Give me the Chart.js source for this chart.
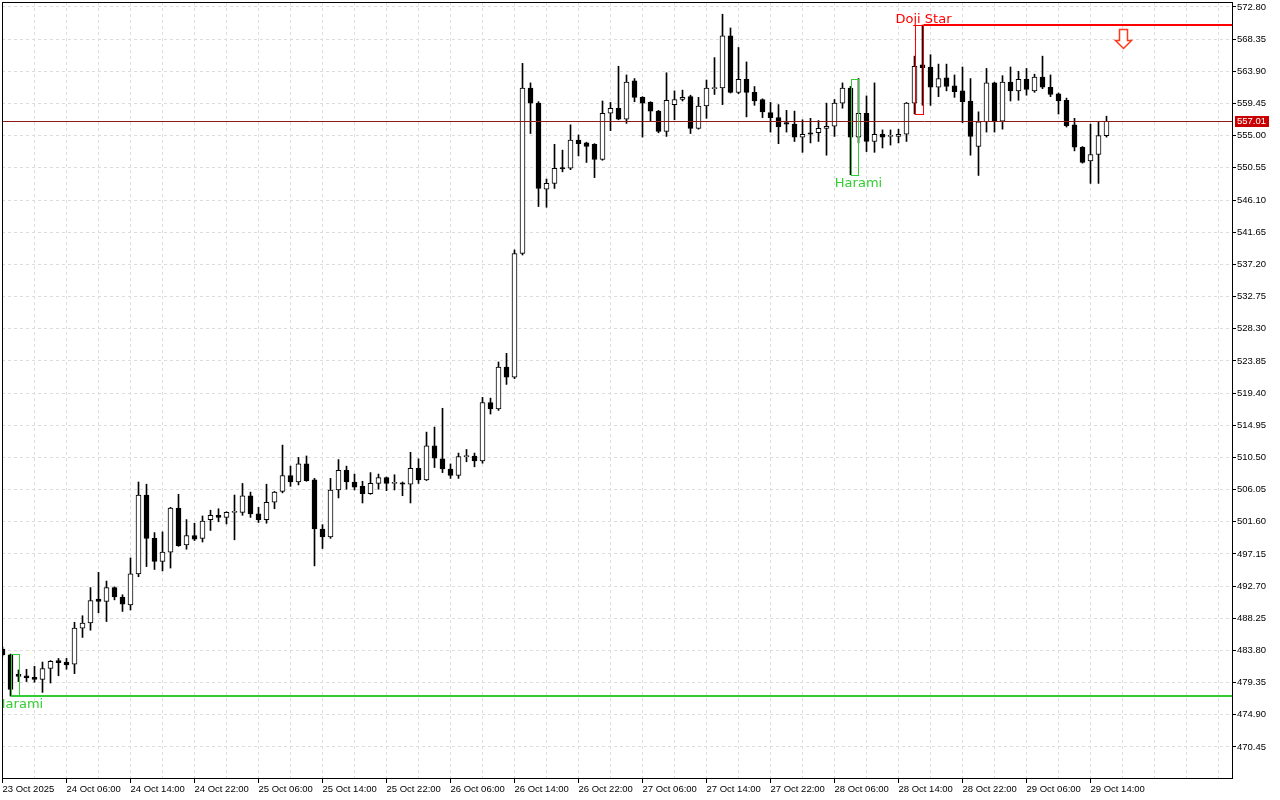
<!DOCTYPE html>
<html>
<head>
<meta charset="utf-8">
<script src="https://cdn.jsdelivr.net/npm/chart.js@4.4.0/dist/chart.umd.min.js"></script>
<style>
  html, body { margin: 0; padding: 0; background: #fff; }
  #wrap { width: 1280px; height: 800px; }
</style>
</head>
<body>
<div id="wrap"><canvas id="candleChart" width="1280" height="800"></canvas></div>
<script>
// hourly bars, first bar = 23 Oct 22:00
const opens = [
  484.0, 483.2, 480.5, 480.3, 480.1, 479.8, 481.3, 482.4, 482.2, 481.9,
  486.9, 487.6, 490.9, 490.6, 492.5, 491.2, 490.1, 494.4, 505.3, 499.3,
  496.1, 497.4, 503.5, 498.4, 499.7, 499.3, 501.9, 502.5, 502.2, 502.9,
  502.9, 505.2, 502.7, 501.9, 504.3, 505.8, 508.0, 507.1, 509.6, 507.4,
  500.6, 499.5, 506.0, 508.7, 507.1, 506.5, 505.5, 506.9, 507.7, 506.9,
  507.0, 506.8, 509.0, 507.4, 512.1, 510.3, 508.9, 508.0, 510.6, 510.7,
  510.0, 518.1, 517.2, 523.0, 521.6, 538.7, 561.6, 559.5, 547.6, 548.4,
  550.6, 550.5, 554.4, 554.0, 553.8, 551.7, 558.1, 558.8, 557.3, 562.6,
  560.3, 559.6, 558.4, 555.6, 559.3, 560.0, 560.4, 556.0, 559.1, 561.5,
  561.6, 568.8, 561.0, 562.8, 561.0, 560.0, 558.2, 557.5, 556.8, 556.6,
  554.8, 555.4, 555.4, 556.0, 556.3, 559.5, 561.6, 554.8, 558.1, 554.2,
  555.2, 554.9, 554.9, 555.2, 559.5, 564.8, 564.5, 561.7, 563.0, 561.9,
  561.2, 559.8, 553.5, 556.9, 562.3, 557.0, 562.4, 561.2, 562.8, 561.2,
  563.1, 561.7, 560.8, 559.9, 556.5, 553.4, 551.5, 552.4, 555.0
];
const highs = [
  484.3, 483.3, 481.1, 481.2, 481.6, 482.2, 482.4, 482.7, 482.7, 487.7,
  488.6, 492.5, 494.6, 493.4, 492.6, 491.5, 496.6, 507.1, 506.8, 500.1,
  500.2, 503.6, 505.4, 501.9, 501.4, 502.4, 503.2, 503.4, 503.0, 505.3,
  506.9, 505.7, 503.6, 506.8, 505.8, 512.2, 509.3, 510.5, 510.7, 507.6,
  501.2, 507.6, 510.2, 509.3, 508.2, 507.2, 508.4, 508.2, 507.8, 508.1,
  507.1, 511.2, 510.3, 514.0, 514.7, 517.3, 509.6, 511.1, 511.6, 511.1,
  518.8, 518.7, 523.7, 524.9, 539.2, 565.0, 562.3, 559.7, 549.0, 553.8,
  553.0, 556.5, 555.1, 554.1, 553.9, 559.8, 559.6, 564.6, 563.4, 562.9,
  560.4, 559.7, 558.5, 563.7, 561.2, 561.3, 560.6, 560.3, 562.7, 565.8,
  571.8, 569.9, 567.2, 565.2, 561.8, 560.1, 559.6, 559.3, 558.5, 558.4,
  557.2, 557.4, 557.1, 559.5, 560.0, 562.3, 561.8, 562.9, 560.5, 562.3,
  555.8, 555.8, 555.9, 559.6, 566.0, 570.3, 566.2, 564.9, 564.9, 563.4,
  564.5, 562.9, 558.3, 564.3, 562.4, 563.3, 564.5, 563.9, 564.3, 563.5,
  566.0, 563.4, 560.9, 560.2, 557.4, 553.5, 556.6, 556.9, 557.7
];
const lows = [
  483.0, 477.5, 479.5, 479.5, 479.4, 478.0, 479.3, 480.3, 481.2, 480.6,
  485.6, 486.6, 489.0, 487.8, 490.8, 489.2, 489.4, 494.0, 495.4, 495.0,
  494.8, 495.2, 498.2, 497.8, 499.0, 498.8, 500.4, 501.6, 501.3, 499.1,
  502.5, 502.2, 501.5, 501.4, 503.4, 505.6, 506.5, 506.7, 507.2, 495.5,
  497.9, 499.3, 504.9, 506.1, 506.0, 504.2, 505.4, 506.1, 505.9, 506.0,
  505.2, 504.2, 506.9, 507.3, 509.1, 508.4, 507.6, 507.6, 509.9, 509.2,
  509.7, 516.5, 517.0, 520.6, 521.4, 538.5, 555.3, 545.2, 545.1, 547.7,
  550.0, 550.3, 552.2, 551.3, 549.2, 551.6, 555.7, 557.2, 556.7, 559.7,
  554.8, 557.0, 555.4, 554.9, 557.2, 559.8, 555.3, 555.9, 557.4, 560.7,
  559.3, 560.9, 560.8, 557.6, 559.2, 557.5, 555.5, 553.9, 555.5, 554.2,
  552.7, 554.0, 554.2, 552.3, 554.9, 558.8, 549.6, 554.0, 552.8, 552.7,
  553.3, 553.7, 554.0, 554.2, 558.0, 559.2, 559.2, 560.4, 561.2, 560.3,
  556.8, 552.3, 549.5, 555.5, 555.5, 555.9, 559.8, 559.9, 560.6, 561.0,
  561.5, 560.4, 558.0, 556.2, 552.9, 551.2, 548.4, 548.4, 554.8
];
const closes = [
  483.2, 478.4, 480.2, 480.0, 479.8, 481.3, 482.3, 482.1, 481.8, 486.9,
  487.6, 490.7, 490.6, 492.5, 491.2, 490.2, 494.4, 505.3, 499.3, 496.1,
  497.4, 503.5, 498.3, 499.7, 499.2, 501.7, 502.5, 502.2, 502.9, 503.0,
  505.2, 502.7, 501.9, 504.3, 505.7, 508.0, 507.1, 509.6, 507.3, 500.6,
  499.5, 506.0, 508.7, 507.1, 506.4, 505.5, 506.9, 507.7, 506.9, 506.9,
  506.8, 509.0, 507.4, 512.1, 510.4, 508.9, 508.0, 510.6, 510.6, 510.0,
  518.1, 517.2, 523.0, 521.6, 538.7, 561.6, 559.5, 547.7, 548.4, 550.5,
  550.4, 554.4, 553.9, 553.5, 551.7, 558.1, 558.8, 557.3, 562.4, 560.3,
  559.5, 558.4, 555.6, 559.9, 560.0, 560.3, 556.0, 559.1, 561.6, 561.6,
  568.8, 561.0, 562.8, 561.0, 559.8, 558.3, 557.5, 556.2, 556.6, 554.8,
  555.2, 555.2, 556.0, 556.3, 559.5, 561.6, 554.8, 558.1, 554.2, 555.2,
  554.8, 555.0, 555.2, 559.5, 564.6, 564.4, 561.7, 562.9, 561.8, 561.1,
  559.7, 554.9, 556.9, 562.3, 557.0, 562.4, 561.2, 562.8, 561.4, 563.1,
  561.7, 560.7, 559.8, 556.4, 553.4, 551.3, 552.4, 555.0, 557.0
];

// one label every 8 bars
const timeLabels = [
  '23 Oct 2025', '24 Oct 06:00', '24 Oct 14:00', '24 Oct 22:00', '25 Oct 06:00',
  '25 Oct 14:00', '25 Oct 22:00', '26 Oct 06:00', '26 Oct 14:00', '26 Oct 22:00',
  '27 Oct 06:00', '27 Oct 14:00', '27 Oct 22:00', '28 Oct 06:00', '28 Oct 14:00',
  '28 Oct 22:00', '29 Oct 06:00', '29 Oct 14:00'
];
const priceTicks = [
  470.45, 474.90, 479.35, 483.80, 488.25, 492.70, 497.15, 501.60, 506.05, 510.50,
  514.95, 519.40, 523.85, 528.30, 532.75, 537.20, 541.65, 546.10, 550.55, 555.00,
  559.45, 563.90, 568.35, 572.80
];

const lastPrice = 557.01;
const haramiMarks = [
  { from: 1, to: 2, top: 483.3, bottom: 477.5 },
  { from: 106, to: 107, top: 562.9, bottom: 549.6 }
];
const dojiMark = { from: 114, to: 115, top: 570.3, bottom: 558.0 };
const supportLevel = { from: 1, price: 477.5 };
const resistanceLevel = { from: 115, price: 570.3 };
const sellArrow = { at: 140, price: 569.8 };

const GREEN = '#32cd32';
const RED = '#ff0000';

const wickData = highs.map((h, i) => ({ x: i, y: [lows[i], h] }));
const bodyData = opens.map((o, i) => ({ x: i, y: [o, closes[i]] }));

const overlay = {
  id: 'overlay',
  afterDatasetsDraw(chart) {
    const { ctx, chartArea: a, scales: { x, y } } = chart;
    const px = v => Math.round(x.getPixelForValue(v)) + 0.5;
    const py = v => Math.round(y.getPixelForValue(v)) + 0.5;

    ctx.save();
    ctx.beginPath();
    ctx.rect(a.left, a.top, a.right - a.left, a.bottom - a.top);
    ctx.clip();

    // last price line
    ctx.strokeStyle = '#8c1c1c';
    ctx.lineWidth = 1;
    ctx.beginPath();
    ctx.moveTo(a.left, py(lastPrice));
    ctx.lineTo(a.right, py(lastPrice));
    ctx.stroke();

    // support / resistance
    ctx.lineWidth = 2;
    ctx.strokeStyle = GREEN;
    ctx.beginPath();
    ctx.moveTo(px(supportLevel.from), Math.round(y.getPixelForValue(supportLevel.price)));
    ctx.lineTo(a.right, Math.round(y.getPixelForValue(supportLevel.price)));
    ctx.stroke();
    ctx.strokeStyle = RED;
    ctx.beginPath();
    ctx.moveTo(px(resistanceLevel.from), Math.round(y.getPixelForValue(resistanceLevel.price)));
    ctx.lineTo(a.right, Math.round(y.getPixelForValue(resistanceLevel.price)));
    ctx.stroke();

    // pattern boxes
    ctx.lineWidth = 1;
    ctx.font = '13px "DejaVu Sans"';
    ctx.textAlign = 'center';
    haramiMarks.forEach(m => {
      ctx.strokeStyle = GREEN;
      ctx.strokeRect(px(m.from), py(m.top), px(m.to) - px(m.from), py(m.bottom) - py(m.top));
      ctx.fillStyle = GREEN;
      ctx.textBaseline = 'top';
      ctx.fillText('Harami', px(m.to), py(m.bottom) + 2);
    });
    ctx.strokeStyle = RED;
    ctx.strokeRect(px(dojiMark.from), py(dojiMark.top), px(dojiMark.to) - px(dojiMark.from), py(dojiMark.bottom) - py(dojiMark.top));
    ctx.fillStyle = RED;
    ctx.textBaseline = 'alphabetic';
    ctx.fillText('Doji Star', px(dojiMark.to), py(dojiMark.top) - 3);

    // sell arrow
    const ax = px(sellArrow.at), ay = py(sellArrow.price);
    ctx.beginPath();
    ctx.moveTo(ax - 4, ay);
    ctx.lineTo(ax + 4, ay);
    ctx.lineTo(ax + 4, ay + 11);
    ctx.lineTo(ax + 8, ay + 11);
    ctx.lineTo(ax, ay + 19);
    ctx.lineTo(ax - 8, ay + 11);
    ctx.lineTo(ax - 4, ay + 11);
    ctx.closePath();
    ctx.fillStyle = '#fff';
    ctx.fill();
    ctx.strokeStyle = '#ff3a1a';
    ctx.lineWidth = 1.5;
    ctx.stroke();
    ctx.restore();
  },
  afterDraw(chart) {
    const { ctx, chartArea: a, scales: { y } } = chart;
    ctx.save();
    ctx.strokeStyle = '#000';
    ctx.lineWidth = 1;
    ctx.strokeRect(a.left + 0.5, a.top + 0.5, a.right - a.left, a.bottom - a.top);
    // last price tag on the axis
    const yy = y.getPixelForValue(lastPrice);
    ctx.fillStyle = '#c80000';
    ctx.fillRect(a.right + 3, Math.round(yy) - 5, 34, 11);
    ctx.fillStyle = '#fff';
    ctx.font = '9.5px "Liberation Sans"';
    ctx.textAlign = 'left';
    ctx.textBaseline = 'middle';
    ctx.fillText(lastPrice.toFixed(2), a.right + 5, Math.round(yy) + 0.5);
    ctx.restore();
  }
};

Chart.defaults.font.family = 'Liberation Sans';

new Chart('candleChart', {
  type: 'bar',
  data: {
    datasets: [
      {
        label: 'body',
        data: bodyData,
        barThickness: 5,
        borderWidth: 1,
        borderColor: '#000',
        borderSkipped: false,
        minBarLength: 1,
        grouped: false,
        order: 1,
        backgroundColor: bodyData.map(d => d.y[1] >= d.y[0] ? '#fff' : '#000')
      },
      {
        label: 'wick',
        data: wickData,
        barThickness: 1,
        borderWidth: 0,
        backgroundColor: '#000',
        grouped: false,
        order: 2
      }
    ]
  },
  options: {
    responsive: false,
    animation: false,
    layout: { padding: { left: 2, top: 2, right: 0, bottom: 0 } },
    plugins: { legend: { display: false }, tooltip: { enabled: false } },
    scales: {
      x: {
        type: 'linear',
        offset: false,
        min: -0.0625,
        max: 153.6875,
        afterBuildTicks: s => {
          const t = [];
          for (let k = 0; k <= 152; k += 4) t.push({ value: k });
          s.ticks = t;
        },
        afterFit: s => { s.height = 22; s.paddingLeft = 0; s.paddingRight = 0; },
        ticks: {
          autoSkip: false, maxRotation: 0, minRotation: 0, align: 'start',
          color: '#000', padding: 1,
          font: { family: 'Liberation Sans', size: 9.5 },
          callback: v => (v % 8 === 0 && timeLabels[v / 8]) ? timeLabels[v / 8] : ''
        },
        grid: {
          offset: false,
          color: '#dcdcdc',
          tickLength: 5,
          tickBorderDash: [],
          tickColor: c => (c.tick && c.tick.value % 8 === 0 && c.tick.value / 8 < timeLabels.length) ? '#000' : 'rgba(0,0,0,0)'
        },
        border: { display: false, dash: [3, 3] }
      },
      y: {
        position: 'right',
        min: 466.16,
        max: 573.49,
        afterBuildTicks: s => { s.ticks = priceTicks.map(v => ({ value: v })); },
        afterFit: s => { s.width = 48; s.paddingTop = 0; s.paddingBottom = 0; },
        ticks: {
          autoSkip: false, color: '#000', padding: 1,
          font: { family: 'Liberation Sans', size: 9.5 },
          callback: v => Number(v).toFixed(2)
        },
        grid: { color: '#dcdcdc', tickColor: '#000', tickLength: 4, tickBorderDash: [] },
        border: { display: false, dash: [3, 3] }
      }
    }
  },
  plugins: [overlay]
});
</script>
</body>
</html>
